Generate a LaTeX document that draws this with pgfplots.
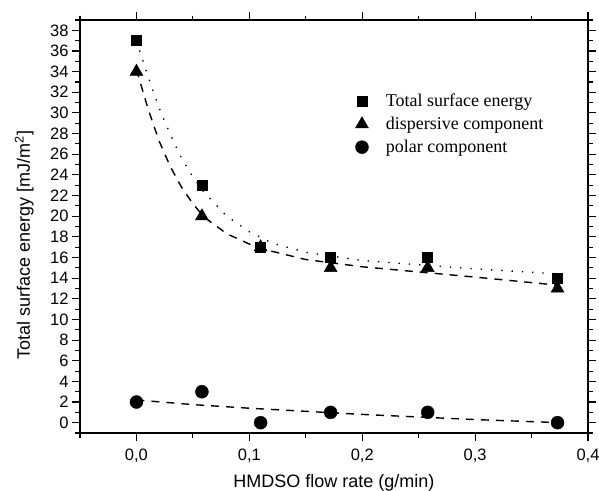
\documentclass[border=0pt]{standalone}
\usepackage{fontspec}
\setmainfont{Liberation Sans}
\newfontfamily\timesfont{Liberation Serif}
\usepackage{pgfplots}
\pgfplotsset{compat=1.18}

\begin{document}
\begin{tikzpicture}
\path[use as bounding box] (-80pt,-57pt) rectangle (519pt,433pt);
\begin{axis}[
    at={(0,0)}, anchor=south west,
    width=508pt, height=413pt, scale only axis,
    xmin=-0.05, xmax=0.4, ymin=-1, ymax=39,
    xtick={0,0.1,0.2,0.3,0.4},
    minor xtick={-0.05,0.05,0.15,0.25,0.35},
    ytick={0,2,...,38},
    minor ytick={-1,1,...,39},
    tick align=outside,
    major tick length=8pt, minor tick length=4.5pt,
    tick style={line width=1.1pt, black},
    axis line style={line width=1.4pt},
    /pgf/number format/assume math mode=true,
    xticklabel style={yshift=-4pt, /pgf/number format/.cd, use comma, fixed, fixed zerofill, precision=1},
    tick label style={font=\fontsize{16.5}{18}\selectfont},
    label style={font=\fontsize{18}{20}\selectfont},
    xlabel={HMDSO flow rate (g/min)},
    ylabel={Total surface energy [mJ/m\textsuperscript{2}]},
    xlabel style={at={(axis description cs:0.5,-0.12)}, anchor=center},
    ylabel style={at={(axis description cs:-0.110,0.455)}, anchor=center},
    legend style={draw=none, fill=none, at={(axis description cs:0.536,0.831)}, anchor=north west,
        font=\timesfont\fontsize{18}{20}\selectfont, row sep=5pt},
    legend image code/.code={%
        \path[draw=none, fill=none] (0pt,-4pt) rectangle (22pt,4pt);
        \draw[mark repeat=1,#1] plot coordinates {(0pt,0pt)};},
    legend cell align=left,
]
% fitted curves
\addplot[black, line width=1.4pt, dash pattern=on 1.3pt off 9pt, forget plot] coordinates {
 (0,37) (0.01,33.6) (0.02,30.5) (0.03,27.9) (0.04,25.6) (0.05,23.8) (0.06,22.3)
 (0.08,20.0) (0.1,18.5) (0.12,17.4) (0.15,16.5) (0.2,15.7) (0.25,15.3) (0.3,14.9) (0.375,14.4)};
\addplot[black, line width=1.4pt, dash pattern=on 8pt off 7pt, forget plot] coordinates {
 (0,34.2) (0.01,30.5) (0.02,27.3) (0.03,24.8) (0.04,22.8) (0.05,21.2) (0.06,19.9)
 (0.08,18.3) (0.1,17.3) (0.12,16.6) (0.15,15.8) (0.2,15.1) (0.25,14.6) (0.3,14.1) (0.375,13.3)};
\addplot[black, line width=1.4pt, dash pattern=on 8pt off 7pt, forget plot] coordinates {
 (0,2.2) (0.05,1.75) (0.1,1.4) (0.15,1.1) (0.2,0.8) (0.25,0.55) (0.3,0.3) (0.375,0.0)};
% measured data
\addplot[only marks, mark=square*, mark size=5pt, black] coordinates {
 (0,37) (0.058,23) (0.11,17) (0.172,16) (0.258,16) (0.373,14)};
\addplot[only marks, mark=triangle*, mark size=7.5pt, black] coordinates {
 (0,34) (0.058,20) (0.11,17) (0.172,15) (0.258,15) (0.373,13)};
\addplot[only marks, mark=*, mark size=6.5pt, black] coordinates {
 (0,2) (0.058,3) (0.11,0) (0.172,1) (0.258,1) (0.373,0)};
\legend{Total surface energy, dispersive component, polar component}
\end{axis}
\end{tikzpicture}
\end{document}
